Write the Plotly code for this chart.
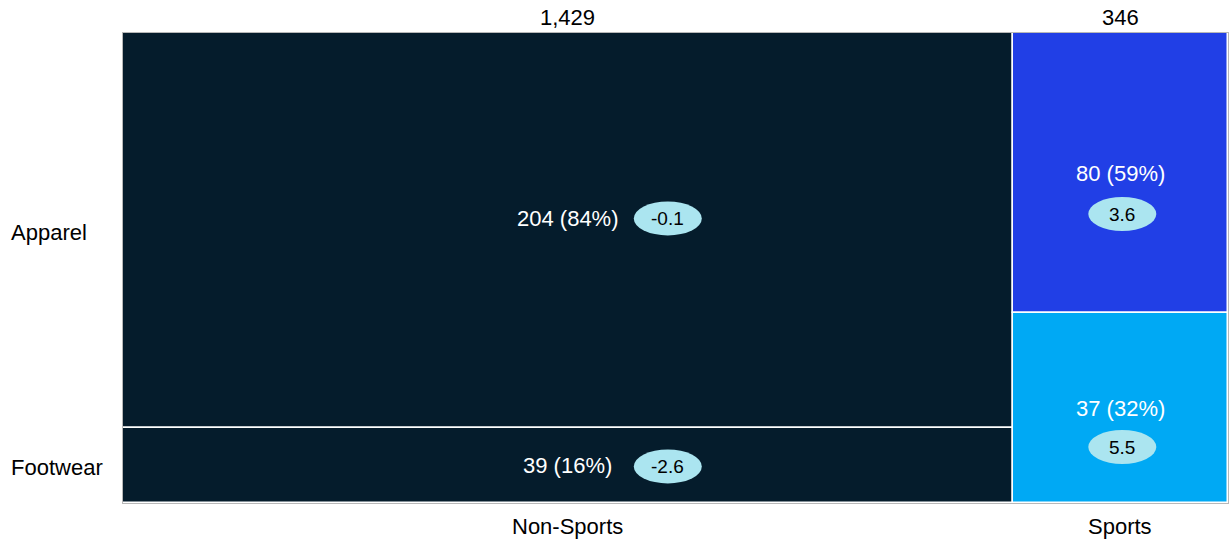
import plotly.graph_objects as go

# ---- data ----
columns = ["Non-Sports", "Sports"]
column_totals = [1429, 346]
segments = ["Apparel", "Footwear"]
# segment values and shares as labelled
seg_values = {"Non-Sports": [204, 39], "Sports": [80, 37]}
seg_pct_labels = {"Non-Sports": [84, 16], "Sports": [59, 32]}
# drawn heights of each segment (share of column, %)
seg_heights = {"Non-Sports": [84, 16], "Sports": [59.6, 40.4]}
bubble_values = {"Non-Sports": [-0.1, -2.6], "Sports": [3.6, 5.5]}

# ---- styles ----
colors = {"Non-Sports": ["#051c2c", "#051c2c"], "Sports": ["#213fe6", "#00a9f4"]}
bubble_color = "#abe5f0"
FONT = "Liberation Sans, Arial, sans-serif"
# pixel offsets (dx, dy) of label and bubble relative to segment centre
label_dy = {"Non-Sports": [12, 0], "Sports": [0, 0]}
bubble_off = {"Non-Sports": [(100, 12), (100, -1)], "Sports": [(2, -41), (2, -39)]}

fig = go.Figure()

# column x positions from totals
starts = []
acc = 0
for t in column_totals:
    starts.append(acc)
    acc += t
grand = acc
centers = [s + t / 2 for s, t in zip(starts, column_totals)]

annotations = []
shapes = []

for ci, col in enumerate(columns):
    base = 100
    for si, seg in enumerate(segments):
        h = seg_heights[col][si]
        base -= h
        fig.add_trace(go.Bar(
            x=[centers[ci]], y=[h], base=[base], width=[column_totals[ci]],
            marker=dict(color=colors[col][si], line=dict(color="white", width=1.5)),
            showlegend=False, hoverinfo="skip",
        ))
        yc = base + h / 2
        annotations.append(dict(
            x=centers[ci], y=yc, xref="x", yref="y",
            text=f"{seg_values[col][si]} ({seg_pct_labels[col][si]}%)",
            showarrow=False, yshift=label_dy[col][si],
            font=dict(family=FONT, size=22, color="white"),
        ))
        dx, dy = bubble_off[col][si]
        shapes.append(dict(
            type="circle", xref="x", yref="y", xsizemode="pixel", ysizemode="pixel",
            xanchor=centers[ci], yanchor=yc,
            x0=dx - 34, x1=dx + 34, y0=dy - 17, y1=dy + 17,
            fillcolor=bubble_color, line=dict(width=0), layer="above",
        ))
        annotations.append(dict(
            x=centers[ci], y=yc, xref="x", yref="y",
            text=f"{bubble_values[col][si]}",
            showarrow=False, xshift=dx, yshift=dy,
            font=dict(family=FONT, size=19, color="black"),
        ))
    # total on top
    annotations.append(dict(
        x=centers[ci], y=1, xref="x", yref="paper", yanchor="bottom",
        text=f"{column_totals[ci]:,}", showarrow=False, yshift=1,
        font=dict(family=FONT, size=22, color="black"),
    ))
    # column label at bottom
    annotations.append(dict(
        x=centers[ci], y=0, xref="x", yref="paper", yanchor="top",
        text=col, showarrow=False, yshift=-9,
        font=dict(family=FONT, size=22, color="black"),
    ))

# row labels aligned with first column's segments
base = 100
for si, seg in enumerate(segments):
    h = seg_heights[columns[0]][si]
    base -= h
    annotations.append(dict(
        x=-114 / 1106, y=base + h / 2, xref="paper", yref="y", xanchor="left",
        text=seg, showarrow=False, yshift=-2,
        font=dict(family=FONT, size=22, color="black"),
    ))

fig.update_layout(
    width=1229, height=542,
    margin=dict(l=123, r=0, t=33, b=39),
    paper_bgcolor="white", plot_bgcolor="white",
    barmode="overlay", bargap=0,
    xaxis=dict(range=[0, grand], showgrid=False, zeroline=False, showticklabels=False,
               showline=True, linecolor="#b8b8b8", linewidth=1, mirror=True, fixedrange=True),
    yaxis=dict(range=[0, 100], showgrid=False, zeroline=False, showticklabels=False,
               showline=True, linecolor="#b8b8b8", linewidth=1, mirror=True, fixedrange=True),
    annotations=annotations, shapes=shapes,
    font=dict(family=FONT),
)

fig.write_html(
    "out.html",
    config={"displayModeBar": False},
    post_script="document.body.style.margin='0px';document.body.style.overflow='hidden';"
                "Plotly.relayout('{plot_id}', {width: 1229, height: 542});",
)
